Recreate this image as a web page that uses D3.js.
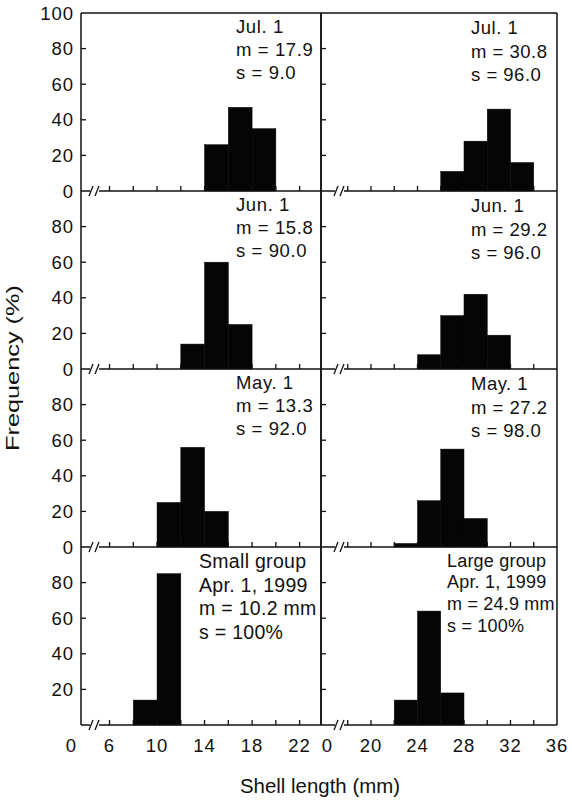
<!DOCTYPE html>
<html>
<head>
<meta charset="utf-8">
<script src="https://cdn.jsdelivr.net/npm/d3@7/dist/d3.min.js"></script>
<style>
  body { margin: 0; background: #fff; }
  text { font-family: "Liberation Sans", Arial, sans-serif; fill: #111; }
</style>
</head>
<body>
<svg id="chart" width="572" height="801"></svg>
<script>
// data, one row per sampling date (top to bottom)
var rowDates = ["Jul. 1", "Jun. 1", "May. 1", "Apr. 1, 1999"];
var smallBins = [[14, 16, 18], [12, 14, 16], [10, 12, 14], [8, 10]];
var smallFreq = [[26, 47, 35], [14, 60, 25], [25, 56, 20], [14, 85]];
var largeBins = [[26, 28, 30, 32], [24, 26, 28, 30], [22, 24, 26, 28], [22, 24, 26]];
var largeFreq = [[11, 28, 46, 16], [8, 30, 42, 19], [2, 26, 55, 16], [14, 64, 18]];
var smallMean = ["17.9", "15.8", "13.3", "10.2"];
var smallS = ["9.0", "90.0", "92.0", "100"];
var largeMean = ["30.8", "29.2", "27.2", "24.9"];
var largeS = ["96.0", "96.0", "98.0", "100"];
var binWidth = 2;
var yTicks = [20, 40, 60, 80];
var xTicksSmall = [6, 8, 10, 12, 14, 16, 18, 20, 22];
var xLabelsSmall = [6, 10, 14, 18, 22];
var xTicksLarge = [18, 20, 22, 24, 26, 28, 30, 32, 34];
var xLabelsLarge = [20, 24, 28, 32, 36];

var svg = d3.select('#chart');
var top0 = 13, rowH = 178;
var xL = d3.scaleLinear().domain([3.6, 23.8]).range([81, 321]);
var xR = d3.scaleLinear().domain([15.7, 36]).range([321, 557]);
var stroke = '#111';

function panel(r, x, bins, freq, brk, text) {
    var y = d3.scaleLinear().domain([0, 100]).range([top0 + (r + 1) * rowH, top0 + r * rowH]);
    var g = svg.append('g');
    var x0 = x.range()[0], x1 = x.range()[1], yb = y(0);
    g.selectAll('rect.bar').data(bins).enter().append('rect')
        .attr('x', function (d) { return x(d); })
        .attr('width', function (d) { return x(d + binWidth) - x(d); })
        .attr('y', function (d, i) { return y(freq[i]); })
        .attr('height', function (d, i) { return yb - y(freq[i]); })
        .attr('fill', '#050505').attr('stroke', '#050505').attr('stroke-width', 0.5);
    // frame sides
    g.append('line').attr('x1', x0).attr('x2', x0).attr('y1', y(100)).attr('y2', yb)
        .attr('stroke', stroke).attr('stroke-width', 1.5);
    g.append('line').attr('x1', x1).attr('x2', x1).attr('y1', y(100)).attr('y2', yb)
        .attr('stroke', stroke).attr('stroke-width', 1.5);
    if (r == 0)
        g.append('line').attr('x1', x0).attr('x2', x1).attr('y1', y(100)).attr('y2', y(100))
            .attr('stroke', stroke).attr('stroke-width', 1.5);
    // broken baseline
    g.append('line').attr('x1', x0).attr('x2', x0 + brk).attr('y1', yb).attr('y2', yb)
        .attr('stroke', stroke).attr('stroke-width', 1.5);
    g.append('line').attr('x1', x0 + brk + 9).attr('x2', x1).attr('y1', yb).attr('y2', yb)
        .attr('stroke', stroke).attr('stroke-width', 1.5);
    [brk + 1, brk + 7].forEach(function (o) {
        g.append('line').attr('x1', x0 + o - 2).attr('x2', x0 + o + 2)
            .attr('y1', yb + 5).attr('y2', yb - 5).attr('stroke', stroke).attr('stroke-width', 1.3);
    });
    var xt = x === xL ? xTicksSmall : xTicksLarge;
    g.selectAll('line.xt').data(xt).enter().append('line')
        .attr('x1', function (d) { return x(d); }).attr('x2', function (d) { return x(d); })
        .attr('y1', yb).attr('y2', yb - 5).attr('stroke', stroke).attr('stroke-width', 1.3);
    g.selectAll('line.yt').data(yTicks).enter().append('line')
        .attr('x1', x0).attr('x2', x0 + 5)
        .attr('y1', function (d) { return y(d); }).attr('y2', function (d) { return y(d); })
        .attr('stroke', stroke).attr('stroke-width', 1.3);
    // annotation
    var t = g.append('text').attr('x', text.x).attr('font-size', text.size)
        .attr('letter-spacing', text.ls);
    text.lines.forEach(function (s, i) {
        t.append('tspan').attr('x', text.x).attr('y', y(100) + text.dy[i]).text(s);
    });
    return y;
}

for (var r = 0; r < 4; r++) {
    var last = r == 3;
    var yl = panel(r, xL, smallBins[r], smallFreq[r], 9, last ? {
        x: 199, size: 19.5, ls: 0.3, dy: [21, 45, 68, 92],
        lines: ["Small group", rowDates[r], "m = " + smallMean[r] + " mm", "s = " + smallS[r] + "%"]
    } : {
        x: 236, size: 18.5, ls: 0.6, dy: [20, 43, 66],
        lines: [rowDates[r], "m = " + smallMean[r], "s = " + smallS[r]]
    });
    panel(r, xR, largeBins[r], largeFreq[r], 14, last ? {
        x: 447, size: 18, ls: 0.2, dy: [20, 41, 63, 85],
        lines: ["Large group", rowDates[r], "m = " + largeMean[r] + " mm", "s = " + largeS[r] + "%"]
    } : {
        x: 471, size: 18.5, ls: 0.5, dy: [21, 45, 68],
        lines: [rowDates[r], "m = " + largeMean[r], "s = " + largeS[r]]
    });
    // y tick labels on the left
    var labs = r == 0 ? [0, 20, 40, 60, 80, 100] : (last ? yTicks : [0, 20, 40, 60, 80]);
    svg.selectAll(null).data(labs).enter().append('text')
        .attr('x', 74).attr('y', function (d) { return yl(d); }).attr('dy', '0.36em')
        .attr('text-anchor', 'end').attr('font-size', 18.5).attr('letter-spacing', 1)
        .text(function (d) { return d; });
}

// x tick labels
var yLab = 752;
svg.selectAll(null).data(xLabelsSmall).enter().append('text')
    .attr('x', function (d) { return xL(d); }).attr('y', yLab)
    .attr('text-anchor', 'middle').attr('font-size', 18.5).attr('letter-spacing', 1)
    .text(function (d) { return d; });
svg.selectAll(null).data(xLabelsLarge).enter().append('text')
    .attr('x', function (d) { return xR(d); }).attr('y', yLab)
    .attr('text-anchor', 'middle').attr('font-size', 18.5).attr('letter-spacing', 1)
    .text(function (d) { return d; });
svg.append('text').attr('x', xL.range()[0] - 10).attr('y', yLab).attr('text-anchor', 'middle')
    .attr('font-size', 18.5).text('0');
svg.append('text').attr('x', xR.range()[0] + 6).attr('y', yLab).attr('text-anchor', 'middle')
    .attr('font-size', 18.5).text('0');

// axis titles
svg.append('text').attr('x', 320).attr('y', 793).attr('text-anchor', 'middle')
    .attr('font-size', 20).attr('textLength', 160).attr('lengthAdjust', 'spacingAndGlyphs')
    .text('Shell length (mm)');
svg.append('text').attr('transform', 'translate(19,368) rotate(-90)').attr('text-anchor', 'middle')
    .attr('font-size', 19).attr('textLength', 166).attr('lengthAdjust', 'spacingAndGlyphs')
    .text('Frequency (%)');
</script>
</body>
</html>
